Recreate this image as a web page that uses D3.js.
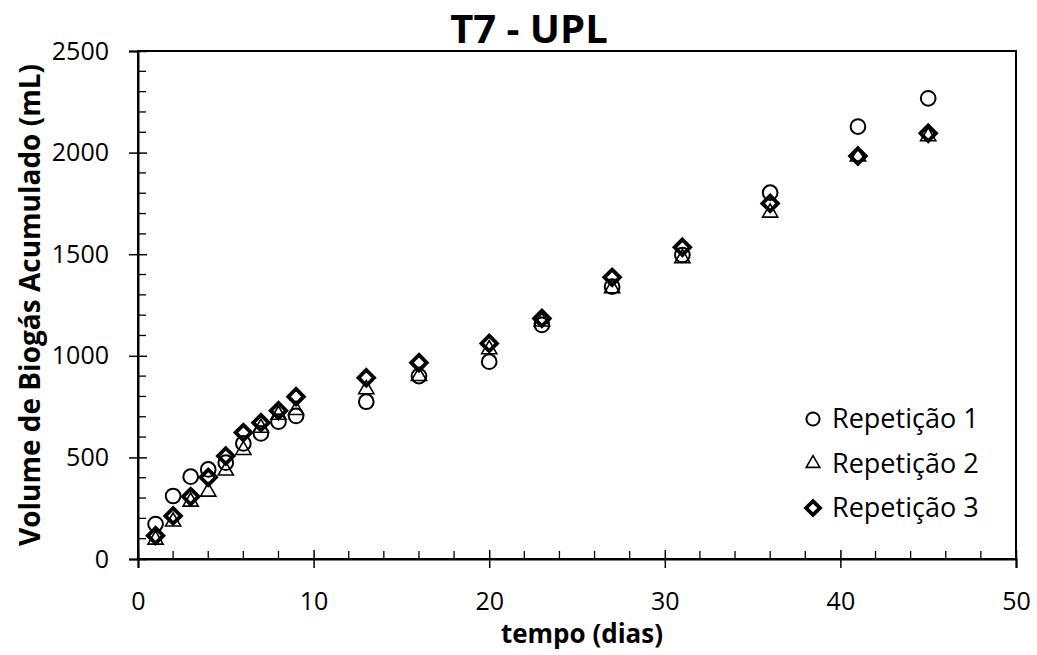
<!DOCTYPE html>
<html>
<head>
<meta charset="utf-8">
<script src="https://cdn.jsdelivr.net/npm/d3@7"></script>
<style>
  body { margin: 0; background: #fff; }
  text { font-family: "Open Sans", "Noto Sans", sans-serif; fill: #000; }
</style>
</head>
<body>
<svg></svg>
<script>
let width = 1037,
    height = 655;

// days of measurement
let dias = [1, 2, 3, 4, 5, 6, 7, 8, 9, 13, 16, 20, 23, 27, 31, 36, 41, 45];

// accumulated biogas volume (mL) per repetition
let rep1 = [172, 310, 405, 441, 474, 569, 618, 676, 704, 774, 900, 971, 1152, 1340, 1496, 1803, 2128, 2267];
let rep2 = [95, 184, 282, 331, 435, 536, 645, 709, 733, 835, 900, 1032, 1168, 1332, 1480, 1704, 1980, 2080];
let rep3 = [115, 212, 307, 402, 507, 622, 671, 730, 799, 892, 966, 1061, 1184, 1386, 1534, 1750, 1983, 2095];

let seriesNames = ["Repetição 1", "Repetição 2", "Repetição 3"];
let xTicks = [0, 10, 20, 30, 40, 50];
let yTicks = [0, 500, 1000, 1500, 2000, 2500];

let svg = d3.select("svg")
    .attr("width", width)
    .attr("height", height);

let x = d3.scaleLinear().domain([0, 50]).range([138, 1016]);
let y = d3.scaleLinear().domain([0, 2500]).range([559, 51]);

// plot area frame
svg.append("rect")
    .attr("x", x(0)).attr("y", y(2500))
    .attr("width", x(50) - x(0)).attr("height", y(0) - y(2500))
    .attr("fill", "none").attr("stroke", "#000").attr("stroke-width", 2);

// minor ticks (inside)
let xMinor = d3.range(0, 51, 2).filter(d => d % 10 !== 0);
svg.append("g").selectAll("line").data(xMinor).enter().append("line")
    .attr("x1", d => x(d)).attr("x2", d => x(d))
    .attr("y1", y(0)).attr("y2", y(0) - 8)
    .attr("stroke", "#000").attr("stroke-width", 1.3);

let yMinor = d3.range(0, 2501, 100).filter(d => d % 500 !== 0);
svg.append("g").selectAll("line").data(yMinor).enter().append("line")
    .attr("x1", x(0)).attr("x2", x(0) + 8)
    .attr("y1", d => y(d)).attr("y2", d => y(d))
    .attr("stroke", "#000").attr("stroke-width", 1.3);

// major axes (ticks crossing)
let xAxis = svg.append("g")
    .attr("transform", `translate(0,${y(0)})`)
    .call(d3.axisBottom(x).tickValues(xTicks).tickFormat(d3.format("d")).tickSize(9).tickPadding(24));
xAxis.select(".domain").attr("stroke-width", 2);
xAxis.selectAll(".tick line").attr("y1", -9).attr("stroke-width", 1.5);
xAxis.selectAll("text").attr("font-size", 25).attr("font-family", "'Open Sans', sans-serif");

let yAxis = svg.append("g")
    .attr("transform", `translate(${x(0)},0)`)
    .call(d3.axisLeft(y).tickValues(yTicks).tickFormat(d3.format("d")).tickSize(9).tickPadding(20));
yAxis.select(".domain").attr("stroke-width", 2);
yAxis.selectAll(".tick line").attr("x1", 9).attr("stroke-width", 1.5);
yAxis.selectAll("text").attr("font-size", 25).attr("font-family", "'Open Sans', sans-serif");

// titles
svg.append("text")
    .attr("x", 529).attr("y", 43)
    .attr("text-anchor", "middle")
    .attr("font-size", 40).attr("font-weight", "bold")
    .text("T7 - UPL");

svg.append("text")
    .attr("x", 582).attr("y", 643)
    .attr("text-anchor", "middle")
    .attr("font-size", 26).attr("font-weight", "bold")
    .text("tempo (dias)");

svg.append("text")
    .attr("transform", "translate(40,305) rotate(-90)")
    .attr("text-anchor", "middle")
    .attr("font-size", 28).attr("font-weight", "bold")
    .text("Volume de Biogás Acumulado (mL)");

// marker shapes
let squareDiamond = {
    draw(context, size) {
        let r = Math.sqrt(size) / 2;
        context.moveTo(0, -r);
        context.lineTo(r, 0);
        context.lineTo(0, r);
        context.lineTo(-r, 0);
        context.closePath();
    }
};
let shapes = [
    { type: d3.symbolCircle, size: 170, sw: 2 },
    { type: d3.symbolTriangle, size: 100, sw: 1.6 },
    { type: squareDiamond, size: 240, sw: 3.8 }
];
let allSeries = [rep1, rep2, rep3];

allSeries.forEach((vals, i) => {
    let sym = d3.symbol().type(shapes[i].type).size(shapes[i].size);
    svg.append("g").selectAll("path")
        .data(vals.map((v, k) => [dias[k], v]))
        .enter().append("path")
        .attr("d", sym)
        .attr("transform", d => `translate(${x(d[0])},${y(d[1])})`)
        .attr("fill", "none")
        .attr("stroke", "#000")
        .attr("stroke-width", shapes[i].sw);
});

// legend
let legend = svg.append("g").attr("transform", "translate(813,419)");
seriesNames.forEach((name, i) => {
    let row = legend.append("g").attr("transform", `translate(0,${i * 44.5})`);
    row.append("path")
        .attr("d", d3.symbol().type(shapes[i].type).size(shapes[i].size * 0.8)())
        .attr("fill", "none").attr("stroke", "#000")
        .attr("stroke-width", shapes[i].sw);
    row.append("text")
        .attr("x", 19).attr("y", 9)
        .attr("font-size", 27)
        .text(name);
});
</script>
</body>
</html>
